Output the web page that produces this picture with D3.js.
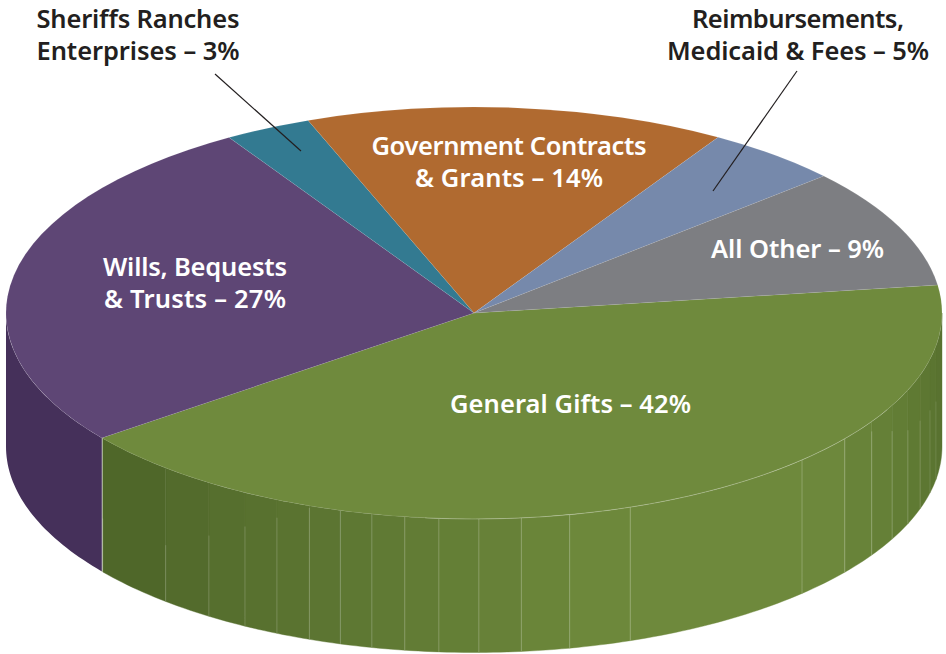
<!DOCTYPE html>
<html>
<head>
<meta charset="utf-8">
<title>Revenue sources</title>
<script src="https://cdn.jsdelivr.net/npm/d3@7"></script>
<style>
  html, body { margin: 0; padding: 0; background: #fff; }
  svg { display: block; }
  text { font-family: "Noto Sans", sans-serif; font-weight: 600; font-size: 25.5px; }
</style>
</head>
<body>
<svg id="chart" width="946" height="654"></svg>
<script>
// Data, clockwise round the pie starting at the General Gifts slice
// Shares are read off the slice angles, the labels show them rounded
const categories = [
  "General Gifts",
  "Wills, Bequests & Trusts",
  "Sheriffs Ranches Enterprises",
  "Government Contracts & Grants",
  "Reimbursements, Medicaid & Fees",
  "All Other",
];
const shares = [41.8, 26.6, 3.0, 14.5, 4.7, 9.4];
const labelLines = [
  ["General Gifts – 42%"],
  ["Wills, Bequests", "& Trusts – 27%"],
  ["Sheriffs Ranches", "Enterprises – 3%"],
  ["Government Contracts", "& Grants – 14%"],
  ["Reimbursements,", "Medicaid & Fees – 5%"],
  ["All Other – 9%"],
];

// Styling
const topColors = ["#6f8a3d", "#5e4675", "#337a91", "#b06a30", "#7689ab", "#7d7e82"];
const wallColor = "#45305a"; // purple side
const labelColors = ["#fff", "#fff", "#231f20", "#fff", "#231f20", "#fff"];
const labelAt = [[570.5, 413], [195, 275.5], [138, 28], [509, 155], [798, 28], [797.5, 258]];
const labelWidths = [[241], [184, 182], [203, 203], [275, 188], [212, 262], [173]];
const leaders = [null, null, [[215, 74], [301, 151]], null, [[797, 71], [713, 191]], null];

// The green side is made of flat strips, edges given in degrees clockwise from north
const stripEdges = [90, 99.2, 103, 107.6, 112, 116.7, 121.8, 127.6, 135.5, 160.5, 168.2, 174.2,
  179.4, 184.3, 188.5, 192.6, 196.6, 200.6, 204.9, 209.3, 214.5, 221.2, 232.5];
const stripShade = d3.scaleLinear()
  .domain([90, 110, 135, 165, 190, 232])
  .range(["#576f2f", "#5f7a33", "#6f8a3d", "#6d883b", "#607a34", "#4d6428"]);
// How far down the wall a seam starts (0 = at the rim) and how strong it is
const seamStart = d3.scaleLinear().domain([90, 112, 125, 200, 222]).range([0.5, 0.3, 0, 0, 0.6]).clamp(true);
const seamOpacity = d3.scaleLinear().domain([95, 125, 225]).range([0.12, 0.3, 0.22]).clamp(true);

// Geometry
const cx = 474, cy = 313, rx = 468, ry = 206, depth = 133.5;
const startDeg = 82.2;
const rad = (d) => (d * Math.PI) / 180;
const deg = (r) => (r * 180) / Math.PI;

const svg = d3.select("#chart");

const xScale = d3.scaleLinear().domain([-1, 1]).range([cx - rx, cx + rx]);
const yScale = d3.scaleLinear().domain([-1, 1]).range([cy + ry, cy - ry]);

const pie = d3.pie()
  .sort(null)
  .startAngle(rad(startDeg))
  .endAngle(rad(startDeg + 360));
const slices = pie(shares);

// Rim point for an angle in degrees, dz pushes it down to the bottom of the wall
const rimPoint = (a, dz) => [xScale(Math.sin(rad(a))), yScale(Math.cos(rad(a))) + dz];

function rimAngles(a0, a1) {
  const n = Math.max(2, Math.ceil(Math.abs(a1 - a0)));
  return d3.range(n + 1).map((i) => a0 + ((a1 - a0) * i) / n);
}

// Wall quad between two rim angles
function wallPath(a0, a1) {
  const angles = rimAngles(a0, a1);
  const top = angles.map((a) => rimPoint(a, 0));
  const bottom = angles.slice().reverse().map((a) => rimPoint(a, depth));
  return d3.line()(top.concat(bottom)) + "Z";
}

const walls = svg.append("g").attr("class", "walls");

// Purple wall runs from the end of the green slice round to the far left
walls.append("path")
  .attr("d", wallPath(deg(slices[0].endAngle), 270))
  .attr("fill", wallColor);

// Green strips
const strips = d3.pairs(stripEdges);
walls.selectAll(".strip")
  .data(strips)
  .enter()
  .append("path")
  .attr("class", "strip")
  .attr("d", (d) => wallPath(d[0], d[1]))
  .attr("fill", (d) => stripShade((d[0] + d[1]) / 2))
  .attr("stroke", (d) => stripShade((d[0] + d[1]) / 2))
  .attr("stroke-width", 0.4);

// Thin light seams between strips, some only show on the lower part of the wall
walls.selectAll(".seam")
  .data(stripEdges.slice(1))
  .enter()
  .append("line")
  .attr("class", "seam")
  .attr("x1", (a) => rimPoint(a, 0)[0])
  .attr("y1", (a) => rimPoint(a, depth * seamStart(a))[1])
  .attr("x2", (a) => rimPoint(a, depth)[0])
  .attr("y2", (a) => rimPoint(a, depth)[1])
  .attr("stroke", "#fff")
  .attr("stroke-opacity", seamOpacity)
  .attr("stroke-width", 0.8);

// Top face: a normal d3 arc flattened into an ellipse
const arc = d3.arc().innerRadius(0).outerRadius(rx);
svg.append("g")
  .attr("transform", `translate(${cx},${cy}) scale(1,${ry / rx})`)
  .selectAll("path")
  .data(slices)
  .enter()
  .append("path")
  .attr("d", arc)
  .attr("fill", (d, i) => topColors[i])
  .attr("stroke", "#fff")
  .attr("stroke-opacity", 0.15)
  .attr("stroke-width", 0.5)
  .attr("vector-effect", "non-scaling-stroke");

// Faint highlight on the front rim of the green slice
svg.append("path")
  .attr("d", d3.line()(rimAngles(118, 186).map((a) => rimPoint(a, 0))))
  .attr("fill", "none")
  .attr("stroke", "#fff")
  .attr("stroke-opacity", 0.3)
  .attr("stroke-width", 0.7);

// Leader lines
svg.append("g")
  .selectAll("line")
  .data(leaders.filter((d) => d))
  .enter()
  .append("line")
  .attr("x1", (d) => d[0][0])
  .attr("y1", (d) => d[0][1])
  .attr("x2", (d) => d[1][0])
  .attr("y2", (d) => d[1][1])
  .attr("stroke", "#231f20")
  .attr("stroke-width", 1.2);

// Labels
const labels = svg.append("g")
  .selectAll("text")
  .data(categories)
  .enter()
  .append("text")
  .attr("text-anchor", "middle")
  .attr("fill", (d, i) => labelColors[i])
  .attr("aria-label", (d) => d);

labels.each(function (d, i) {
  d3.select(this)
    .selectAll("tspan")
    .data(labelLines[i])
    .enter()
    .append("tspan")
    .attr("x", labelAt[i][0])
    .attr("y", (line, j) => labelAt[i][1] + j * 32)
    .attr("textLength", (line, j) => labelWidths[i][j])
    .attr("lengthAdjust", "spacing")
    .text((line) => line);
});
</script>
</body>
</html>
